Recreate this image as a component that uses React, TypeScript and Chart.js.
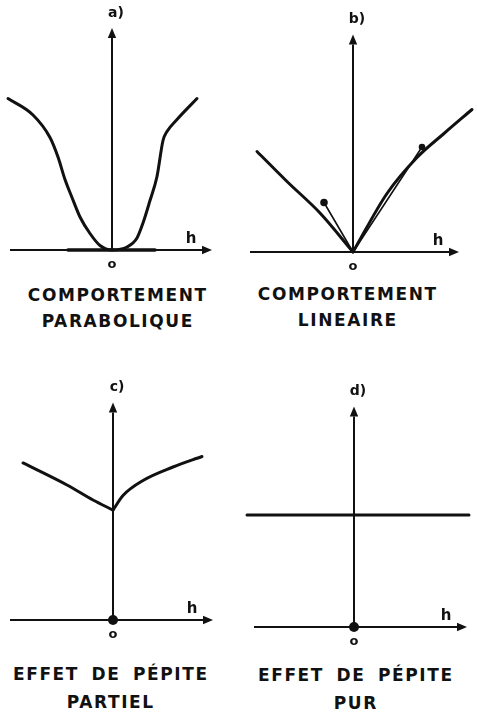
import React, { useEffect, useRef } from "react";
import { Chart, registerables } from "chart.js";

Chart.register(...registerables);

// ---- Data (lag h, variogram gamma) -------------------------------------

// a) parabolic behaviour at the origin
const PARABOLIC_H = [-1.04, -0.79, -0.62, -0.54, -0.47, -0.4, -0.32, -0.22, -0.12, 0, 0.15, 0.25, 0.31, 0.38, 0.45, 0.51, 0.55, 0.65, 0.85];
const PARABOLIC_GAMMA = [1.01, 0.9, 0.75, 0.62, 0.47, 0.35, 0.22, 0.11, 0.03, 0, 0.02, 0.08, 0.18, 0.33, 0.49, 0.73, 0.79, 0.87, 1.01];
// horizontal tangent at the origin
const PARABOLIC_TANGENT_H = [-0.44, 0.43];
const PARABOLIC_TANGENT_GAMMA = [0, 0];

// b) linear behaviour at the origin
const LINEAR_LEFT_H = [-0.96, -0.66, -0.33, 0];
const LINEAR_LEFT_GAMMA = [0.67, 0.47, 0.26, 0];
const LINEAR_RIGHT_H = [0, 0.34, 0.64, 0.91, 1.19];
const LINEAR_RIGHT_GAMMA = [0, 0.39, 0.63, 0.79, 0.95];
// tangents at the origin
const LINEAR_TANGENT_LEFT_H = [0, -0.29];
const LINEAR_TANGENT_LEFT_GAMMA = [0, 0.33];
const LINEAR_TANGENT_RIGHT_H = [0, 0.69];
const LINEAR_TANGENT_RIGHT_GAMMA = [0, 0.7];

// c) partial nugget effect
const NUGGET_PARTIAL = 0.733;
const PARTIAL_LEFT_H = [-0.9, -0.46, -0.2, 0];
const PARTIAL_LEFT_GAMMA = [1.047, 0.9, 0.8, NUGGET_PARTIAL];
const PARTIAL_RIGHT_H = [0, 0.1, 0.3, 0.6, 0.89];
const PARTIAL_RIGHT_GAMMA = [NUGGET_PARTIAL, 0.83, 0.93, 1.02, 1.09];

// d) pure nugget effect
const NUGGET_PURE = 0.747;
const PURE_H = [-1.07, 1.15];
const PURE_GAMMA = [NUGGET_PURE, NUGGET_PURE];

// gamma(0) = 0 marker
const ORIGIN_H = [0];
const ORIGIN_GAMMA = [0];

// ---- Captions -----------------------------------------------------------
const PANEL_LABELS = ["a)", "b)", "c)", "d)"];
const CAPTIONS = [
  ["COMPORTEMENT", "PARABOLIQUE"],
  ["COMPORTEMENT", "LINEAIRE"],
  ["EFFET DE PÉPITE", "PARTIEL"],
  ["EFFET DE PÉPITE", "PUR"],
];
const AXIS_H = "h";
const AXIS_O = "o";

// ---- Styling / layout ---------------------------------------------------
const INK = "#111111";
const PX_PER_H = 100;
const PX_PER_GAMMA = 150;
const FONT = "'DejaVu Sans', Verdana, sans-serif";

const pts = (h: number[], g: number[]) => h.map((x, i) => ({ x, y: g[i] }));

const curve = (h: number[], g: number[], extra: any = {}) => ({
  data: pts(h, g),
  showLine: true,
  borderColor: INK,
  backgroundColor: INK,
  borderWidth: 3,
  pointRadius: 0,
  cubicInterpolationMode: "monotone",
  borderCapStyle: "round",
  borderJoinStyle: "round",
  clip: false,
  ...extra,
});

const originDot = () => ({
  data: pts(ORIGIN_H, ORIGIN_GAMMA),
  showLine: false,
  pointRadius: 5,
  pointStyle: "circle",
  pointBackgroundColor: INK,
  pointBorderColor: INK,
  pointBorderWidth: 0,
  clip: false,
});

interface PanelSpec {
  label: string;
  caption: string[];
  frame: { left: number; top: number; width: number; height: number };
  origin: { x: number; y: number };
  axis: { hMin: number; hMax: number; gammaMax: number };
  captionAt: { x: number; y1: number; y2: number };
  datasets: any[];
}

const PANELS: PanelSpec[] = [
  {
    label: PANEL_LABELS[0],
    caption: CAPTIONS[0],
    frame: { left: 0, top: 0, width: 238, height: 280 },
    origin: { x: 112, y: 250 },
    axis: { hMin: -1.02, hMax: 1.0, gammaMax: 1.48 },
    captionAt: { x: 117, y1: 295, y2: 321 },
    datasets: [
      curve(PARABOLIC_TANGENT_H, PARABOLIC_TANGENT_GAMMA, { borderWidth: 3.5, cubicInterpolationMode: "default", tension: 0 }),
      curve(PARABOLIC_H, PARABOLIC_GAMMA),
    ],
  },
  {
    label: PANEL_LABELS[1],
    caption: CAPTIONS[1],
    frame: { left: 238, top: 0, width: 239, height: 280 },
    origin: { x: 353, y: 252 },
    axis: { hMin: -1.03, hMax: 1.06, gammaMax: 1.45 },
    captionAt: { x: 347, y1: 294, y2: 320 },
    datasets: [
      curve(LINEAR_LEFT_H, LINEAR_LEFT_GAMMA),
      curve(LINEAR_RIGHT_H, LINEAR_RIGHT_GAMMA),
      curve(LINEAR_TANGENT_LEFT_H, LINEAR_TANGENT_LEFT_GAMMA, {
        borderWidth: 1.6,
        cubicInterpolationMode: "default",
        tension: 0,
        pointRadius: [0, 3],
      }),
      curve(LINEAR_TANGENT_RIGHT_H, LINEAR_TANGENT_RIGHT_GAMMA, {
        borderWidth: 1.6,
        cubicInterpolationMode: "default",
        tension: 0,
        pointRadius: [0, 2.5],
      }),
    ],
  },
  {
    label: PANEL_LABELS[2],
    caption: CAPTIONS[2],
    frame: { left: 0, top: 364, width: 238, height: 290 },
    origin: { x: 113, y: 620 },
    axis: { hMin: -1.03, hMax: 1.0, gammaMax: 1.45 },
    captionAt: { x: 110, y1: 674, y2: 702 },
    datasets: [
      curve(PARTIAL_LEFT_H, PARTIAL_LEFT_GAMMA),
      curve(PARTIAL_RIGHT_H, PARTIAL_RIGHT_GAMMA),
      originDot(),
    ],
  },
  {
    label: PANEL_LABELS[3],
    caption: CAPTIONS[3],
    frame: { left: 238, top: 364, width: 239, height: 290 },
    origin: { x: 354, y: 627 },
    axis: { hMin: -1.0, hMax: 1.13, gammaMax: 1.47 },
    captionAt: { x: 355, y1: 675, y2: 703 },
    datasets: [curve(PURE_H, PURE_GAMMA, { cubicInterpolationMode: "default", tension: 0 }), originDot()],
  },
];

// Draws the h / gamma axes with arrow heads, and their letters.
const axesPlugin = {
  id: "variogramAxes",
  beforeDatasetsDraw(chart: any, _args: any, opts: any) {
    const { ctx, scales } = chart;
    const xs = scales.x;
    const ys = scales.y;
    const x0 = xs.getPixelForValue(0);
    const y0 = ys.getPixelForValue(0);
    const xL = xs.getPixelForValue(opts.hMin);
    const xR = xs.getPixelForValue(opts.hMax);
    const yT = ys.getPixelForValue(opts.gammaMax);

    const arrow = (x1: number, y1: number, x2: number, y2: number) => {
      const ang = Math.atan2(y2 - y1, x2 - x1);
      const len = 10;
      const half = 4.2;
      const bx = x2 - len * Math.cos(ang);
      const by = y2 - len * Math.sin(ang);
      ctx.beginPath();
      ctx.moveTo(x1, y1);
      ctx.lineTo(bx, by);
      ctx.stroke();
      ctx.beginPath();
      ctx.moveTo(x2, y2);
      ctx.lineTo(bx + half * Math.sin(ang), by - half * Math.cos(ang));
      ctx.lineTo(bx - half * Math.sin(ang), by + half * Math.cos(ang));
      ctx.closePath();
      ctx.fill();
    };

    ctx.save();
    ctx.strokeStyle = INK;
    ctx.fillStyle = INK;
    ctx.lineWidth = 2;
    ctx.lineCap = "butt";
    arrow(xL, y0, xR, y0);
    arrow(x0, y0, x0, yT);

    ctx.textAlign = "center";
    ctx.textBaseline = "middle";
    ctx.font = `bold 15px ${FONT}`;
    ctx.fillText(AXIS_H, xR - 21, y0 - 11);
    ctx.font = `bold 13px ${FONT}`;
    ctx.fillText(AXIS_O, x0, y0 + 15);
    ctx.font = `bold 14px ${FONT}`;
    ctx.fillText(opts.label, x0 + 4, yT - 15);
    ctx.restore();
  },
};

function Panel({ spec }: { spec: PanelSpec }) {
  const ref = useRef<HTMLCanvasElement | null>(null);

  useEffect(() => {
    const canvas = ref.current;
    if (!canvas) return;
    const { frame, origin, axis } = spec;
    const chart = new Chart(canvas, {
      type: "scatter",
      data: { datasets: spec.datasets },
      options: {
        animation: false,
        responsive: false,
        devicePixelRatio: 1,
        events: [],
        layout: { padding: 0, autoPadding: false },
        plugins: {
          legend: { display: false },
          tooltip: { enabled: false },
          variogramAxes: { ...axis, label: spec.label },
        } as any,
        scales: {
          x: {
            type: "linear",
            display: false,
            min: (frame.left - origin.x) / PX_PER_H,
            max: (frame.left + frame.width - origin.x) / PX_PER_H,
          },
          y: {
            type: "linear",
            display: false,
            min: (origin.y - frame.top - frame.height) / PX_PER_GAMMA,
            max: (origin.y - frame.top) / PX_PER_GAMMA,
          },
        },
      } as any,
      plugins: [axesPlugin],
    });
    return () => chart.destroy();
  }, [spec]);

  const { frame } = spec;
  return (
    <canvas
      ref={ref}
      width={frame.width}
      height={frame.height}
      style={{
        position: "absolute",
        left: frame.left,
        top: frame.top,
        width: frame.width,
        height: frame.height,
      }}
    />
  );
}

const captionStyle = (x: number, y: number): React.CSSProperties => ({
  position: "absolute",
  left: x,
  top: y,
  transform: "translate(-50%, -50%)",
  fontFamily: FONT,
  fontWeight: "bold",
  fontSize: 17,
  letterSpacing: "1.6px",
  wordSpacing: "5px",
  paddingLeft: "1.6px",
  whiteSpace: "nowrap",
  color: INK,
  lineHeight: 1,
});

export default function App() {
  return (
    <div
      style={{
        position: "fixed",
        left: 0,
        top: 0,
        width: 477,
        height: 728,
        background: "#ffffff",
        overflow: "hidden",
      }}
    >
      {PANELS.map((p, i) => (
        <React.Fragment key={i}>
          <Panel spec={p} />
          <div style={captionStyle(p.captionAt.x, p.captionAt.y1)}>{p.caption[0]}</div>
          <div style={captionStyle(p.captionAt.x, p.captionAt.y2)}>{p.caption[1]}</div>
        </React.Fragment>
      ))}
    </div>
  );
}
